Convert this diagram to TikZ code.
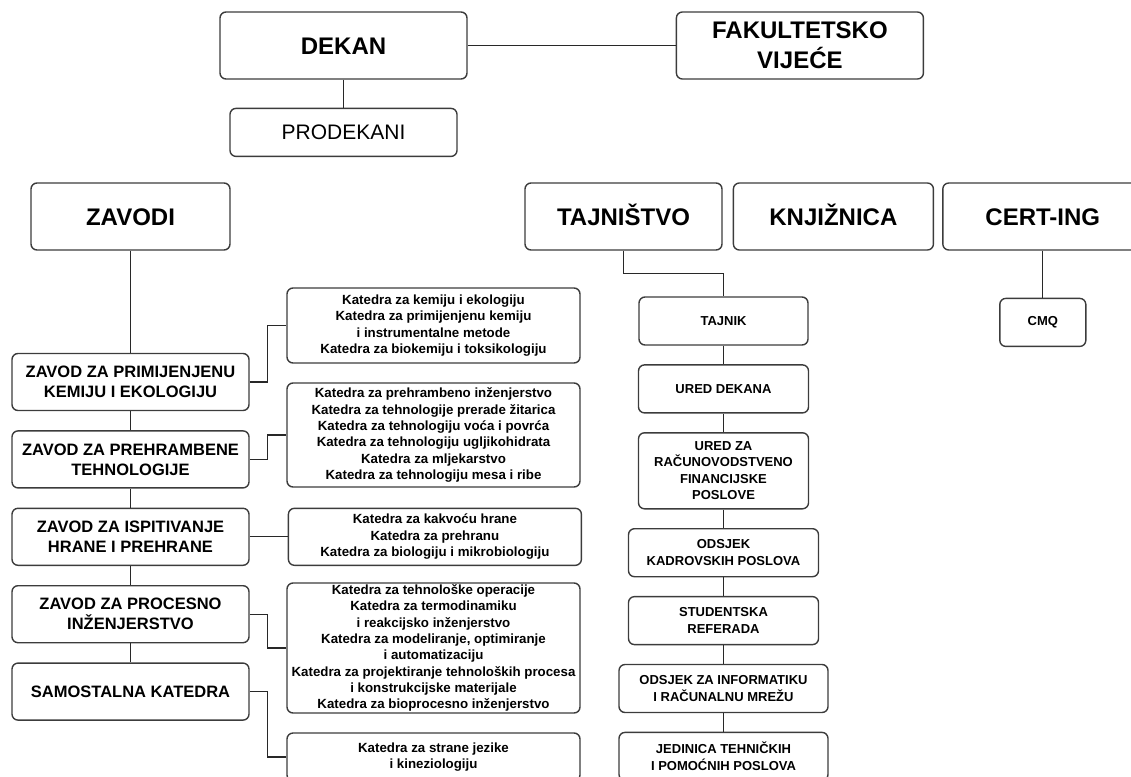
\documentclass[tikz,border=0pt]{standalone}
\usepackage{fontspec}
\setmainfont{Liberation Sans}
\usetikzlibrary{positioning}
\definecolor{boxline}{RGB}{60,60,60}
\definecolor{linkline}{RGB}{40,40,40}

\begin{document}
\begin{tikzpicture}[x=1pt,y=-1pt,
  every node/.style={draw=boxline,line width=1.4pt,rounded corners=6pt,align=center,inner sep=0pt},
  head/.style={minimum height=67pt,font=\fontsize{24}{30}\selectfont\bfseries},
  oneline/.style={text height=17.5pt,text depth=0pt},
  zavod/.style={minimum width=237pt,minimum height=57pt,font=\fontsize{16.5}{20}\selectfont\bfseries},
  katedra/.style={minimum width=293pt,font=\fontsize{13.3}{16.3}\selectfont\bfseries},
  ured/.style={minimum height=48pt,font=\fontsize{13}{16.5}\selectfont\bfseries},
  link/.style={draw=linkline,line width=1.3pt}]
  \useasboundingbox (0,0) rectangle (1131,776);
  \clip (0,0) rectangle (1131,776);

  % uprava
  \node[head,oneline,minimum width=247pt] (dekan) at (343.5,45.5) {DEKAN};
  \node[head,minimum width=247pt,right=208pt of dekan] (vijece) {FAKULTETSKO\\VIJEĆE};
  \node[minimum width=227pt,minimum height=48pt,font=\fontsize{21}{25}\selectfont,below=28pt of dekan] (prodekani) {PRODEKANI};

  % zavodi
  \node[head,oneline,minimum width=199pt] (zavodi) at (130.5,216.5) {ZAVODI};
  \node[zavod] (z1) at (130.5,382) {ZAVOD ZA PRIMIJENJENU\\KEMIJU I EKOLOGIJU};
  \node[zavod,below=19pt of z1] (z2) {ZAVOD ZA PREHRAMBENE\\TEHNOLOGIJE};
  \node[zavod,below=19pt of z2] (z3) {ZAVOD ZA ISPITIVANJE\\HRANE I PREHRANE};
  \node[zavod,below=19pt of z3] (z4) {ZAVOD ZA PROCESNO\\INŽENJERSTVO};
  \node[zavod,below=19pt of z4] (z5) {SAMOSTALNA KATEDRA};

  % katedre
  \node[katedra,minimum height=75pt] (k1) at (433.5,325.5) {Katedra za kemiju i ekologiju\\Katedra za primijenjenu kemiju\\i instrumentalne metode\\Katedra za biokemiju i toksikologiju};
  \node[katedra,minimum height=104pt] (k2) at (433.5,435) {Katedra za prehrambeno inženjerstvo\\Katedra za tehnologije prerade žitarica\\Katedra za tehnologiju voća i povrća\\Katedra za tehnologiju ugljikohidrata\\Katedra za mljekarstvo\\Katedra za tehnologiju mesa i ribe};
  \node[katedra,minimum height=57pt,right=38pt of z3] (k3) {Katedra za kakvoću hrane\\Katedra za prehranu\\Katedra za biologiju i mikrobiologiju};
  \node[katedra,minimum height=130pt] (k4) at (433.5,648) {Katedra za tehnološke operacije\\Katedra za termodinamiku\\i reakcijsko inženjerstvo\\Katedra za modeliranje, optimiranje\\i automatizaciju\\Katedra za projektiranje tehnoloških procesa\\i konstrukcijske materijale\\Katedra za bioprocesno inženjerstvo};
  \node[katedra,minimum height=48pt] (k5) at (433.5,757) {Katedra za strane jezike\\i kineziologiju};

  % sluzbe
  \node[head,oneline,minimum width=197pt] (tajnistvo) at (623.5,216.5) {TAJNIŠTVO};
  \node[head,oneline,minimum width=200pt,right=10pt of tajnistvo] (knjiznica) {KNJIŽNICA};
  \node[head,oneline,minimum width=200pt,right=8pt of knjiznica] (certing) {CERT-ING};
  \node[ured,minimum width=86pt,below=47pt of certing] (cmq) {CMQ};
  \node[ured,minimum width=169pt] (tajnik) at (723.5,321) {TAJNIK};
  \node[ured,minimum width=170pt,below=18.5pt of tajnik] (ureddekana) {URED DEKANA};
  \node[ured,minimum width=170pt,minimum height=76pt,below=18.5pt of ureddekana] (uredza) {URED ZA\\RAČUNOVODSTVENO\\FINANCIJSKE\\POSLOVE};
  \node[ured,minimum width=190pt,below=18.5pt of uredza] (kadrovski) {ODSJEK\\KADROVSKIH POSLOVA};
  \node[ured,minimum width=190pt,below=18.5pt of kadrovski] (referada) {STUDENTSKA\\REFERADA};
  \node[ured,minimum width=209pt,below=18.5pt of referada] (informatika) {ODSJEK ZA INFORMATIKU\\I RAČUNALNU MREŽU};
  \node[ured,minimum width=209pt,below=18.5pt of informatika] (jedinica) {JEDINICA TEHNIČKIH\\I POMOĆNIH POSLOVA};

  % veze
  \foreach \a/\b in {dekan/vijece,dekan/prodekani,zavodi/z1,z1/z2,z2/z3,z3/z4,z4/z5,z3/k3,certing/cmq,tajnik/ureddekana,ureddekana/uredza,uredza/kadrovski,kadrovski/referada,referada/informatika,informatika/jedinica}{\draw[link] (\a) -- (\b);}
  \foreach \a/\b in {z1/k1,z2/k2,z4/k4,z5/k5}{\draw[link] (\a.east) -- ++(18,0) |- (\b.west);}
  \draw[link] (tajnistvo.south) -- ++(0,22.5) -| (tajnik.north);
\end{tikzpicture}
\end{document}
